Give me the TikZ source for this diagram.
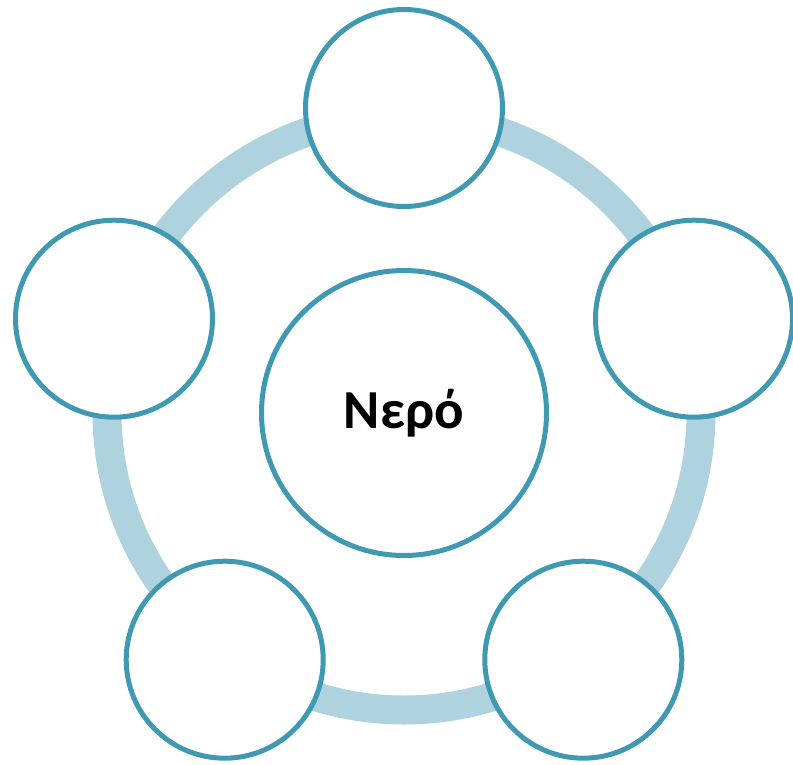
\documentclass[tikz,border=0pt]{standalone}
\usepackage{fontspec}
\setmainfont{Carlito}
\definecolor{ringblue}{RGB}{174,210,222}
\definecolor{edgeblue}{RGB}{64,153,178}
\begin{document}
\begin{tikzpicture}[x=1pt,y=-1pt,
  sat/.style={circle,draw=edgeblue,line width=5pt,fill=white,minimum size=197pt,inner sep=0pt},
  hub/.style={circle,draw=edgeblue,line width=5pt,fill=white,minimum size=285pt,inner sep=0pt,font=\fontsize{55}{60}\selectfont\bfseries}]
\useasboundingbox (0,0) rectangle (793,765);
\coordinate (c) at (404,413);
\draw[ringblue,line width=29pt] (c) circle[radius=297];
\node[hub] (center) at (c) {Νερό};
\node[sat] (s1) at (404,108) {};
\node[sat] (s2) at (694,318.7) {};
\node[sat] (s3) at (583.3,659.7) {};
\node[sat] (s4) at (224.7,659.7) {};
\node[sat] (s5) at (114,318.7) {};
\end{tikzpicture}
\end{document}
